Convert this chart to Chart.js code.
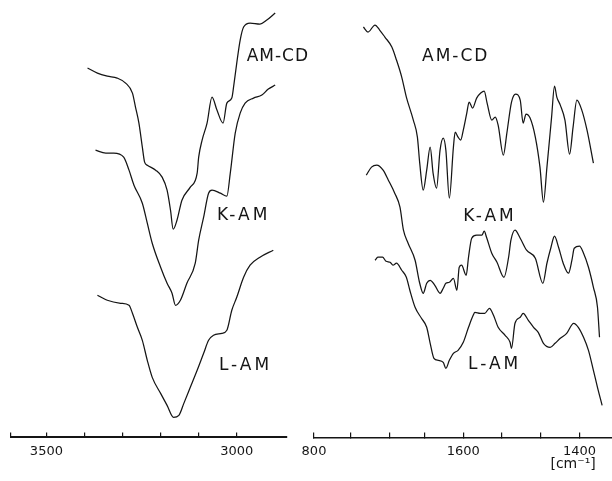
<!DOCTYPE html>
<html><head><meta charset="utf-8">
<script src="https://cdn.jsdelivr.net/npm/chart.js@4"></script>
<style>
html,body{margin:0;padding:0;background:#fff;}
#wrap{position:relative;width:612px;height:481px;overflow:hidden;}
canvas{position:absolute;left:0;top:0;}
</style></head><body>
<div id="wrap"><canvas id="c1" width="612" height="481"></canvas><canvas id="c2" width="612" height="481"></canvas></div>
<script>
// ---------- Left panel (O-H / C-H stretching region), wavenumber in cm^-1 ----------
const leftAmcdWn = [3392,3366,3340,3314,3292,3274,3266,3257,3248,3242,3235,3213,3196,3183,3174,3167,3157,3144,3122,3104,3100,3091,3078,3065,3052,3036,3026,3013,3007,3000,2991,2982,2965,2939,2921,2899];
const leftAmcdT  = [369,364,361,359,354,344,330,314,290,275,272,267,260,247,227,208,217,237,250,264,280,297,314,340,327,314,334,339,354,374,397,410,414,413,417,424];

const leftKamWn = [3371,3344,3323,3297,3283,3270,3248,3235,3222,3200,3183,3170,3161,3148,3131,3109,3100,3087,3074,3065,3043,3026,3017,3004,2991,2978,2956,2934,2917,2899];
const leftKamT  = [287,284,284,280,267,252,234,214,194,170,154,144,132,137,154,174,197,220,244,247,244,241,264,304,324,334,339,342,348,352];

const leftLamWn = [3366,3340,3305,3283,3274,3261,3248,3235,3222,3200,3183,3166,3152,3139,3122,3104,3087,3074,3061,3039,3026,3013,3000,2982,2965,2939,2904];
const leftLamT  = [142,137,134,132,124,110,97,77,60,44,32,20,22,34,50,67,84,97,102,104,107,127,140,160,172,180,187];

// ---------- Right panel (fingerprint region) ----------
const rightAmcdWn = [1772,1764,1752,1744,1735,1723,1715,1706,1698,1686,1679,1675,1669,1663,1657,1652,1646,1640,1634.5,1630,1624,1617,1614,1609,1604.5,1600,1594,1590,1584,1577,1570,1564,1559,1551,1545,1540,1531,1525,1517,1510,1502,1497,1492,1485,1476,1468,1462,1456,1448,1443,1439,1433,1425,1417,1411,1404.5,1396,1387,1376];
const rightAmcdT  = [410,405,412,407,400,390,377,360,340,317,300,274,247,267,290,264,249,287,299,287,239,290,305,300,297,307,324,335,329,339,344,346,334,317,320,312,282,304,335,343,337,314,323,319,300,270,235,270,320,351,340,332,317,283,310,337,327,307,274];

const rightKamWn = [1767,1758,1749,1738,1729,1718,1709,1703,1695,1683,1675,1669,1663,1657,1649,1640,1634.5,1630,1624,1617,1611,1607,1603,1595,1591,1585.5,1577,1568,1564,1560,1551,1542,1530,1522,1518,1511,1502,1491,1476,1463,1456,1449,1443,1436,1428,1419,1413,1409,1400,1393,1384.5,1376,1369,1365.5];
const rightKamT  = [262,270,272,267,257,244,230,207,194,177,154,144,154,157,152,144,149,154,155,159,147,170,172,162,180,199,202,202,206,200,184,175,160,180,197,207,199,187,179,154,174,190,201,190,174,164,177,189,191,184,170,150,130,100];

const rightLamWn = [1752,1747,1739,1733,1726,1721,1715,1706,1698,1692,1683,1672,1663,1657,1650.5,1643,1634.5,1630,1624,1617,1609,1600,1591,1583,1580,1571,1563,1555,1548,1540,1528,1519.5,1517,1511,1502,1497,1488,1479,1471,1462,1450.5,1442,1433,1422,1410,1402,1393,1384.5,1376,1369,1361];
const rightLamT  = [177,180,180,176,175,172,174,167,160,147,130,119,110,94,79,77,75,69,77,84,87,95,110,122,125,124,124,129,122,110,102,95,89,114,120,124,117,110,105,94,90,94,99,104,114,110,100,87,67,50,32];

// ---------- Axis ticks ----------
const leftTickValues = [3593,3500,3400,3300,3200,3100,3000];
const leftTickLabels = ["","3500","","","","","3000"];
const rightTickValues = [1857,1794,1726,1666,1600,1534,1467,1400];
const rightTickLabels = ["800","","","","1600","","","1400"];

// ---------- Curve labels ----------
const leftLabelTexts = ["AM-CD","K-AM","L-AM"];
const rightLabelTexts = ["AM-CD","K-AM","L-AM"];
const unitLabel = "[cm\u207B\u00B9]";

const zip = (xs, ys) => xs.map((x, i) => ({x, y: ys[i]}));
const INK = '#151515';
const FONT = '"DejaVu Sans", sans-serif';

function lineDs(xs, ys) {
  return {data: zip(xs, ys), borderColor: INK, borderWidth: 1.25, pointRadius: 0,
          fill: false, cubicInterpolationMode: 'monotone'};
}

function annotPlugin(items) {
  return {
    id: 'annot',
    afterDraw(chart) {
      const ctx = chart.ctx, xs = chart.scales.x, ys = chart.scales.y;
      ctx.save();
      ctx.fillStyle = INK;
      ctx.textAlign = 'center';
      ctx.textBaseline = 'middle';
      for (const a of items) {
        ctx.font = a.font;
        ctx.letterSpacing = a.spacing;
        ctx.fillText(a.text, xs.getPixelForValue(a.x), ys.getPixelForValue(a.y));
      }
      ctx.restore();
    }
  };
}

function makeChart(id, datasets, xmin, xmax, tickVals, tickLabels, pad, borderW, items) {
  return new Chart(document.getElementById(id), {
    type: 'line',
    data: {datasets},
    plugins: [annotPlugin(items)],
    options: {
      responsive: false, animation: false, events: [],
      layout: {padding: pad},
      plugins: {legend: {display: false}, tooltip: {enabled: false}},
      scales: {
        x: {
          type: 'linear', reverse: true, min: xmin, max: xmax,
          afterBuildTicks: (s) => { s.ticks = tickVals.map(v => ({value: v})); },
          ticks: {
            autoSkip: false, maxRotation: 0, padding: 11, color: INK,
            font: {family: FONT, size: 13},
            callback: (v) => { const i = tickVals.indexOf(v); return i >= 0 ? tickLabels[i] : ''; }
          },
          grid: {drawOnChartArea: false, drawTicks: true, tickLength: -5, color: INK, lineWidth: 1.2},
          border: {display: true, color: INK, width: borderW}
        },
        y: {type: 'linear', display: false, min: 0, max: 437}
      }
    }
  });
}

const labelFont = '17px ' + FONT;
makeChart('c1',
  [lineDs(leftAmcdWn, leftAmcdT), lineDs(leftKamWn, leftKamT), lineDs(leftLamWn, leftLamT)],
  2868, 3593, leftTickValues, leftTickLabels,
  {left: 10, right: 325, top: 0, bottom: 11}, 2,
  [
    {text: leftLabelTexts[0], x: 2892, y: 380, font: labelFont, spacing: '1px'},
    {text: leftLabelTexts[1], x: 2982, y: 222, font: labelFont, spacing: '3px'},
    {text: leftLabelTexts[2], x: 2977, y: 72, font: labelFont, spacing: '3px'}
  ]);

makeChart('c2',
  [lineDs(rightAmcdWn, rightAmcdT), lineDs(rightKamWn, rightKamT), lineDs(rightLamWn, rightLamT)],
  1344, 1857, rightTickValues, rightTickLabels,
  {left: 314, right: 0, top: 0, bottom: 11}, 1.5,
  [
    {text: rightLabelTexts[0], x: 1613, y: 380, font: labelFont, spacing: '2px'},
    {text: rightLabelTexts[1], x: 1554, y: 221, font: labelFont, spacing: '3px'},
    {text: rightLabelTexts[2], x: 1546, y: 73, font: labelFont, spacing: '3px'},
    {text: unitLabel, x: 1411, y: -27, font: '14px ' + FONT, spacing: '0px'}
  ]);
</script>
</body></html>
